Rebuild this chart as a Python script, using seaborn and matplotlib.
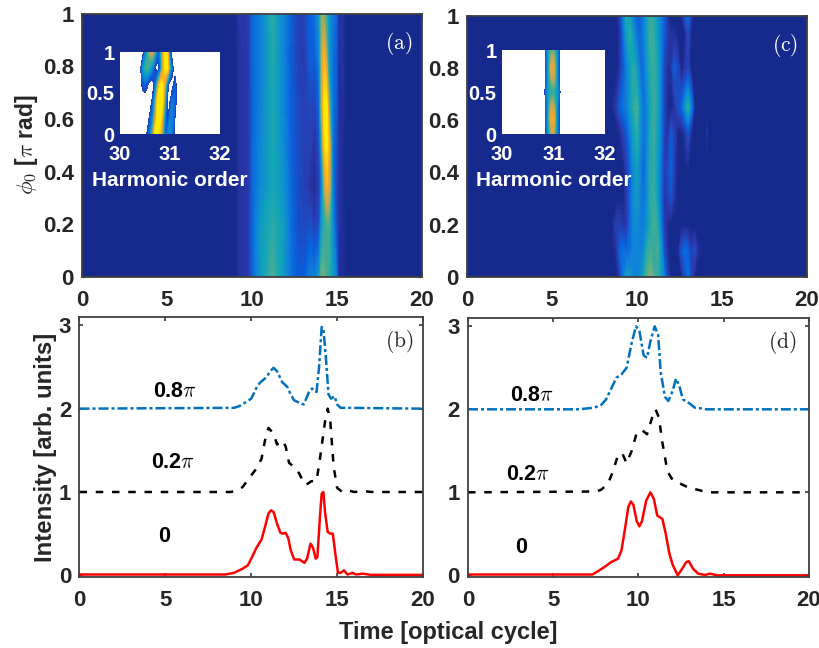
import numpy as np
import matplotlib
matplotlib.use("Agg")
import matplotlib.pyplot as plt
from matplotlib.colors import LinearSegmentedColormap
import seaborn as sns

# Panel (a): intensity map, one row per phi0
a_time = [0, 9.0, 9.3, 9.8, 10.05, 10.5, 11.2, 11.8, 12.3, 12.7, 13.1, 13.4, 13.7, 13.95,
          14.1, 14.25, 14.4, 14.55, 14.75, 14.95, 15.1, 15.3, 15.5, 20]
a_phi = [0, 0.2, 0.35, 0.5, 0.65, 0.85, 1.0]
a_row0 = [0, 0, .05, .08, .22, .40, .55, .40, .25, .18, .20, .30, .30, .40, .62, .60, .52, .50, .40, .30, .02, .04, 0, 0]
a_row1 = [0, 0, .05, .08, .23, .40, .50, .42, .24, .14, .12, .15, .08, .15, .40, .50, .55, .55, .33, .15, .05, .04, 0, 0]
a_row2 = [0, 0, .05, .07, .22, .33, .45, .38, .22, .14, .10, .06, .03, .10, .30, .65, .85, .75, .28, .12, .05, .03, 0, 0]
a_row3 = [0, 0, .05, .07, .22, .32, .47, .35, .20, .13, .10, .10, .05, .15, .50, .92, 1.0, .80, .25, .15, .05, .03, 0, 0]
a_row4 = [0, 0, .05, .07, .22, .30, .47, .33, .20, .12, .10, .12, .10, .22, .72, 1.0, 1.0, .55, .25, .18, .04, .04, 0, 0]
a_row5 = [0, 0, .05, .08, .22, .30, .48, .32, .18, .10, .08, .20, .20, .32, .68, .85, .60, .35, .25, .20, .03, .06, 0, 0]
a_row6 = [0, 0, .07, .08, .22, .30, .50, .33, .20, .10, .12, .20, .25, .40, .64, .60, .50, .35, .28, .22, .03, .06, 0, 0]

# Panel (c): intensity map
c_time = [0, 8.5, 8.8, 9.0, 9.2, 9.4, 9.6, 9.8, 10.0, 10.2, 10.4, 10.6, 10.8, 11.0, 11.2, 11.4, 11.6, 11.8,
          12.0, 12.2, 12.4, 12.6, 12.8, 13.0, 13.2, 13.4, 13.6, 14.0, 14.1, 14.2, 20]
c_phi = [0, 0.1, 0.2, 0.3, 0.4, 0.55, 0.65, 0.8, 0.93, 1.0]
c_row0 = [0, 0, 0, .10, .28, .42, .40, .30, .30, .35, .45, .58, .62, .55, .52, .42, .30, .10, 0, 0, 0, 0, .12, .25, .10, 0, 0, 0, 0, 0, 0]
c_row1 = [0, 0, .05, .22, .25, .22, .25, .32, .32, .30, .35, .50, .55, .50, .55, .40, .15, .03, 0, 0, 0, .15, .25, .20, .08, .15, .03, 0, 0, 0, 0]
c_row2 = [0, 0, .10, .10, .05, .08, .22, .33, .35, .30, .28, .38, .48, .55, .50, .30, .08, .02, 0, 0, 0, 0, 0, 0, 0, 0, 0, 0, 0, 0, 0]
c_row3 = [0, 0, 0, 0, 0, .08, .22, .35, .40, .30, .25, .35, .50, .52, .42, .25, .06, .10, .15, .04, 0, 0, 0, 0, 0, 0, 0, 0, 0, 0, 0]
c_row4 = [0, 0, 0, 0, 0, .08, .20, .35, .42, .30, .20, .35, .50, .50, .40, .25, .08, .12, .20, .08, 0, 0, 0, 0, 0, 0, 0, 0, 0, 0, 0]
c_row5 = [0, 0, 0, .03, .10, .18, .30, .42, .50, .35, .25, .32, .48, .52, .42, .30, .10, .05, .18, .10, 0, 0, .05, .15, .02, 0, 0, 0, .05, 0, 0]
c_row6 = [0, 0, .08, .20, .25, .30, .40, .50, .55, .35, .25, .32, .45, .52, .45, .30, .10, .02, 0, .05, .15, .20, .35, .50, .30, 0, 0, 0, 0, 0, 0]
c_row7 = [0, 0, 0, .06, .18, .30, .42, .50, .40, .25, .25, .38, .50, .52, .45, .30, .12, .04, .05, .20, .12, 0, .05, .10, 0, 0, 0, 0, 0, 0, 0]
c_row8 = [0, 0, 0, .05, .25, .42, .50, .35, .25, .22, .30, .42, .55, .50, .40, .30, .18, .08, .05, .04, 0, 0, 0, .12, 0, 0, 0, 0, 0, 0, 0]
c_row9 = [0, 0, 0, .10, .30, .50, .40, .28, .20, .20, .30, .42, .52, .48, .40, .30, .20, .04, 0, 0, 0, 0, .15, .25, .05, 0, 0, 0, 0, 0, 0]

# Insets: harmonic spectra, white where the intensity is below the lowest level
ia_order = [30.40, 30.45, 30.50, 30.55, 30.60, 30.65, 30.70, 30.75, 30.80, 30.85, 30.90, 30.95, 31.00, 31.05, 31.10, 31.15]
ia_phi = [0, 0.2, 0.4, 0.6, 0.8, 1.0]
ia_row0 = [0, 0, 0, .15, .30, .60, 1.0, 1.0, .90, .60, .20, .30, .35, .25, 0, 0]
ia_row1 = [0, 0, 0, 0, .15, .30, .70, 1.0, 1.0, .80, .30, .05, .30, .30, .10, 0]
ia_row2 = [0, 0, 0, 0, 0, .15, .50, 1.0, 1.0, 1.0, .50, .05, .10, .30, .20, 0]
ia_row3 = [0, .15, .20, .12, 0, 0, .20, .60, 1.0, 1.0, .70, .20, 0, .05, .20, 0]
ia_row4 = [0, .35, .50, .55, .45, .30, .12, 0, .20, .70, 1.0, 1.0, .50, .15, 0, 0]
ia_row5 = [0, 0, .25, .50, .70, .75, .50, .20, .30, .70, 1.0, .90, .20, 0, 0, 0]

ic_order = [30.82, 30.86, 30.90, 30.94, 30.98, 31.02, 31.06, 31.10, 31.14]
ic_phi = [0, 0.2, 0.35, 0.5, 0.65, 0.8, 1.0]
ic_row0 = [0, .20, .40, .60, .75, .60, .40, .20, 0]
ic_row1 = [0, .20, .45, .75, .85, .75, .35, .20, 0]
ic_row2 = [0, .20, .40, .65, .70, .60, .40, .20, 0]
ic_row3 = [0, .30, .42, .50, .50, .50, .42, .30, 0]
ic_row4 = [0, .20, .40, .60, .70, .65, .40, .20, 0]
ic_row5 = [0, .20, .40, .70, .80, .70, .40, .20, 0]
ic_row6 = [0, .20, .40, .55, .60, .55, .40, .20, 0]

# Panel (b) curves
b_red_t = [0, 8.5, 9, 9.5, 9.8, 10, 10.3, 10.6, 10.8, 11, 11.15, 11.3, 11.5, 11.7, 11.85, 12, 12.15, 12.3, 12.5, 12.8, 13.1,
           13.25, 13.45, 13.6, 13.75, 13.85, 14, 14.1, 14.2, 14.3, 14.45, 14.6, 14.75, 14.9, 15.05, 15.2, 15.4, 15.6, 15.9, 16.1, 16.5, 17, 20]
b_red_y = [.01, .01, .03, .08, .12, .2, .33, .43, .58, .74, .78, .76, .62, .51, .5, .51, .45, .3, .19, .19, .15,
           .2, .38, .33, .2, .22, .7, .98, 1.0, .75, .52, .5, .5, .25, .03, .03, .06, .01, .03, .01, .02, .005, .005]
b_black_t = [0, 8.8, 9.2, 9.5, 10, 10.3, 10.6, 10.8, 11, 11.3, 11.5, 11.8, 12, 12.2, 12.5, 12.8, 13.1, 13.3, 13.5, 13.8,
             14, 14.3, 14.45, 14.6, 14.8, 15, 15.3, 15.6, 16, 16.6, 17, 20]
b_black_y = [1, 1, 1.02, 1.06, 1.2, 1.28, 1.4, 1.62, 1.77, 1.7, 1.57, 1.62, 1.55, 1.35, 1.3, 1.22, 1.09, 1.1, 1.13, 1.13,
             1.4, 1.85, 2.0, 1.85, 1.3, 1.05, 1.0, 1.02, 1.0, 1.01, 1.0, 1.0]
b_blue_t = [0, 9, 9.3, 9.7, 10, 10.3, 10.5, 10.9, 11.1, 11.3, 11.5, 11.8, 12.1, 12.3, 12.5, 12.8, 13.05, 13.2, 13.4, 13.55, 13.8,
            13.95, 14.1, 14.2, 14.35, 14.5, 14.65, 14.85, 15, 15.2, 15.6, 20]
b_blue_y = [2, 2.01, 2.03, 2.08, 2.12, 2.25, 2.31, 2.38, 2.45, 2.49, 2.45, 2.32, 2.26, 2.17, 2.1, 2.07, 2.05, 2.12, 2.22, 2.24, 2.2,
            2.5, 2.98, 2.96, 2.6, 2.17, 2.12, 2.15, 2.05, 2.01, 2.01, 2.0]

# Panel (d) curves
d_red_t = [0, 7, 7.3, 7.7, 8, 8.4, 8.8, 9, 9.2, 9.4, 9.55, 9.7, 9.9, 10.05, 10.2, 10.45, 10.7, 10.9, 11.1, 11.4, 11.6, 11.8, 12,
           12.3, 12.5, 12.8, 12.95, 13.2, 13.5, 13.9, 14.2, 14.6, 20]
d_red_y = [.01, .01, .01, .06, .1, .16, .2, .3, .55, .82, .89, .85, .65, .59, .65, .9, 1.0, .92, .72, .68, .5, .27, .13,
           0, .06, .16, .17, .08, .02, .005, .02, 0, 0]
d_black_t = [0, 7.5, 7.8, 8.2, 8.5, 8.8, 9.05, 9.3, 9.6, 9.9, 10.2, 10.5, 10.8, 11, 11.2, 11.4, 11.7, 12, 12.5, 13, 13.5, 14, 20]
d_black_y = [1, 1.01, 1.03, 1.1, 1.25, 1.45, 1.47, 1.35, 1.5, 1.72, 1.75, 1.7, 1.9, 2.0, 1.9, 1.6, 1.25, 1.15, 1.1, 1.05, 1.03, 1.0, 1.0]
d_blue_t = [0, 6.5, 7.4, 7.8, 8.1, 8.4, 8.7, 9, 9.3, 9.6, 9.85, 10.05, 10.3, 10.5, 10.7, 10.95, 11.15, 11.3, 11.55, 11.75, 12, 12.2,
            12.4, 12.6, 13, 13.3, 13.7, 14, 20]
d_blue_y = [2, 2, 2.02, 2.05, 2.12, 2.25, 2.38, 2.42, 2.5, 2.8, 3.0, 2.95, 2.65, 2.62, 2.82, 3.0, 2.9, 2.45, 2.15, 2.1, 2.22, 2.37,
            2.28, 2.12, 2.07, 2.02, 2.01, 2.0, 2.0]

sns.set_theme(style="ticks", rc={
    "font.family": ["Liberation Sans", "DejaVu Sans"],
    "font.weight": "bold",
    "mathtext.fontset": "cm",
    "axes.edgecolor": "#404040",
    "axes.linewidth": 1.3,
    "text.color": "#262626",
    "xtick.color": "#262626",
    "ytick.color": "#262626",
})

navy = "#14288a"
parula = LinearSegmentedColormap.from_list("parula_like", [
    (0.00, navy), (0.08, "#2b39ab"), (0.20, "#0a5fdc"), (0.32, "#0f85d8"),
    (0.45, "#12a5b8"), (0.56, "#4aae90"), (0.70, "#c8a850"), (0.82, "#f5a52a"), (1.00, "#ffee00"),
])

W, H = 820, 648


def px_axes(left, top, right, bottom):
    return fig.add_axes([left / W, 1 - bottom / H, (right - left) / W, (bottom - top) / H])


def style_main(ax, ylim, yticks, ylabels):
    ax.set_xlim(0, 20)
    ax.set_ylim(*ylim)
    ax.set_xticks([0, 5, 10, 15, 20])
    ax.set_yticks(yticks)
    ax.set_yticklabels(ylabels)
    ax.tick_params(direction="in", length=3, width=1.1, top=True, right=True, labelsize=16)
    ax.tick_params(axis="x", pad=9)
    ax.tick_params(axis="y", pad=6)
    ax.set_xlabel("")
    ax.set_ylabel("")
    for lab in ax.get_xticklabels() + ax.get_yticklabels():
        lab.set_fontweight("bold")


def draw_map(ax, t, phi, rows):
    ax.set_facecolor(navy)
    ax.contourf(t, phi, np.array(rows), levels=np.linspace(0, 1, 65), cmap=parula, vmin=0, vmax=1)
    style_main(ax, (0, 1), [0, .2, .4, .6, .8, 1], ["0", "0.2", "0.4", "0.6", "0.8", "1"])


def draw_inset(box, order, phi, rows):
    ins = px_axes(*box)
    ins.set_facecolor("white")
    ins.contourf(order, phi, np.array(rows), levels=np.linspace(0.1, 1, 40), cmap=parula, vmin=0, vmax=1)
    ins.set_xlim(30, 32)
    ins.set_ylim(0, 1)
    ins.set_xticks([30, 31, 32])
    ins.set_yticks([0, .5, 1])
    ins.set_yticklabels(["0", "0.5", "1"])
    ins.tick_params(length=0, labelsize=14.5, labelcolor="white")
    ins.tick_params(axis="x", pad=8)
    ins.tick_params(axis="y", pad=4)
    for lab in ins.get_xticklabels() + ins.get_yticklabels():
        lab.set_fontweight("bold")
    for sp in ins.spines.values():
        sp.set_visible(False)
    ins.set_xlabel("Harmonic order", color="white", fontsize=15, fontweight="bold", labelpad=5)


def draw_curves(ax, red, black, blue):
    sns.lineplot(x=blue[0], y=blue[1], color="#0072bd", linewidth=1.8, linestyle=(0, (4, 1.2, 1.2, 1.2)),
                 estimator=None, sort=False, ax=ax)
    sns.lineplot(x=black[0], y=black[1], color="black", linewidth=1.8, linestyle=(0, (3, 3.5)),
                 estimator=None, sort=False, ax=ax)
    sns.lineplot(x=red[0], y=red[1], color="#ff0000", linewidth=1.8, estimator=None, sort=False, ax=ax)
    style_main(ax, (-0.02, 3.1), [0, 1, 2, 3], ["0", "1", "2", "3"])


fig = plt.figure(figsize=(W / 100, H / 100), dpi=100, facecolor="white")

ax_a = px_axes(82, 13.5, 422, 277)
draw_map(ax_a, a_time, a_phi, [a_row0, a_row1, a_row2, a_row3, a_row4, a_row5, a_row6])
draw_inset((120, 52, 220, 134), ia_order, ia_phi, [ia_row0, ia_row1, ia_row2, ia_row3, ia_row4, ia_row5])
ax_a.text(18.6, 0.885, r"$\mathrm{(a)}$", color="white", fontsize=15.5, ha="center", va="center")
ax_a.set_ylabel(r"$\phi_0$ [$\pi$ rad]", fontsize=16.5, fontweight="bold", labelpad=2)

ax_c = px_axes(467, 15.5, 807, 277)
draw_map(ax_c, c_time, c_phi, [c_row0, c_row1, c_row2, c_row3, c_row4, c_row5, c_row6, c_row7, c_row8, c_row9])
draw_inset((502, 50, 605, 134), ic_order, ic_phi, [ic_row0, ic_row1, ic_row2, ic_row3, ic_row4, ic_row5, ic_row6])
ax_c.text(18.7, 0.885, r"$\mathrm{(c)}$", color="white", fontsize=15.5, ha="center", va="center")

ax_b = px_axes(79.5, 317, 423, 577)
draw_curves(ax_b, (b_red_t, b_red_y), (b_black_t, b_black_y), (b_blue_t, b_blue_y))
ax_b.text(18.6, 2.81, r"$\mathrm{(b)}$", fontsize=15.5, ha="center", va="center")
ax_b.text(5.56, 2.2, r"0.8$\pi$", color="black", fontsize=15.5, fontweight="bold", ha="center", va="center")
ax_b.text(5.47, 1.36, r"0.2$\pi$", color="black", fontsize=15.5, fontweight="bold", ha="center", va="center")
ax_b.text(4.9, 0.46, "0", color="black", fontsize=15.5, fontweight="bold", ha="center", va="center")
ax_b.set_ylabel("Intensity [arb. units]", fontsize=17.3, fontweight="bold", labelpad=1)

ax_d = px_axes(468, 318, 809, 577)
draw_curves(ax_d, (d_red_t, d_red_y), (d_black_t, d_black_y), (d_blue_t, d_blue_y))
ax_d.text(18.46, 2.81, r"$\mathrm{(d)}$", fontsize=15.5, ha="center", va="center")
ax_d.text(3.75, 2.17, r"0.8$\pi$", color="black", fontsize=15.5, fontweight="bold", ha="center", va="center")
ax_d.text(3.5, 1.22, r"0.2$\pi$", color="black", fontsize=15.5, fontweight="bold", ha="center", va="center")
ax_d.text(3.1, 0.33, "0", color="black", fontsize=15.5, fontweight="bold", ha="center", va="center")

fig.text(448 / W, 1 - 632 / H, "Time [optical cycle]", fontsize=17, fontweight="bold", ha="center", va="center")

fig.savefig("out.png", dpi=100)
